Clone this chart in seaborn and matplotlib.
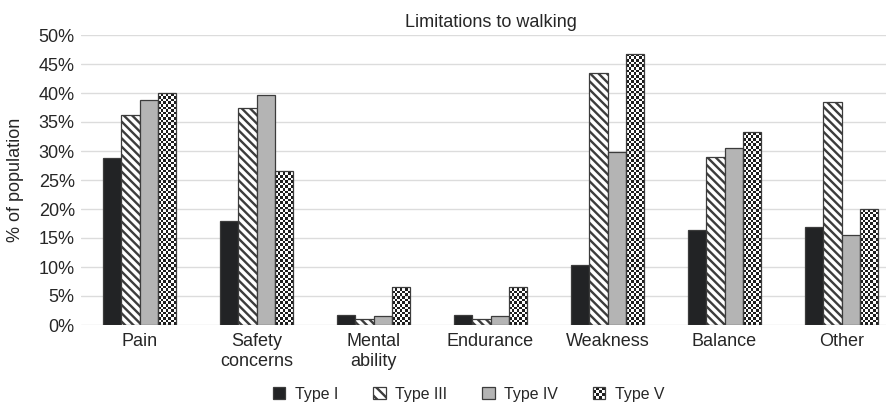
import numpy as np
import pandas as pd
import matplotlib
matplotlib.use("Agg")
import matplotlib.pyplot as plt
from matplotlib.patches import Rectangle
from matplotlib.collections import PolyCollection
from matplotlib.legend_handler import HandlerBase
from matplotlib.ticker import FuncFormatter, MultipleLocator
import seaborn as sns

# Share of population reporting each limitation to walking, by type
categories = ["Pain", "Safety\nconcerns", "Mental\nability", "Endurance",
              "Weakness", "Balance", "Other"]
types = ["Type I", "Type III", "Type IV", "Type V"]
type_i = [28.8, 17.9, 1.8, 1.8, 10.4, 16.4, 16.9]
type_iii = [36.2, 37.4, 1.1, 1.1, 43.4, 28.9, 38.5]
type_iv = [38.8, 39.6, 1.5, 1.5, 29.9, 30.6, 15.6]
type_v = [40.0, 26.6, 6.6, 6.6, 46.7, 33.3, 20.0]

df = pd.DataFrame({
    "category": categories * 4,
    "type": np.repeat(types, len(categories)),
    "value": type_i + type_iii + type_iv + type_v,
})

sns.set_theme(style="white")
plt.rcParams["font.family"] = ["Liberation Sans", "DejaVu Sans"]
plt.rcParams["hatch.linewidth"] = 1.7
plt.rcParams["hatch.color"] = "#1e1e1e"

TEXT = "#262626"
EDGE = "#3c3c3c"
DARK = "#1e1e1e"
fills = {"Type I": "#222325", "Type III": "#ffffff",
         "Type IV": "#b4b4b4", "Type V": "#ffffff"}

W, H = 886, 404
fig = plt.figure(figsize=(W / 100, H / 100), dpi=100)
ax = fig.add_axes([81 / W, 79 / H, 819 / W, 290 / H])

sns.barplot(data=df, x="category", y="value", hue="type", order=categories,
            hue_order=types, palette=fills, saturation=1, width=0.63,
            edgecolor=EDGE, linewidth=0.9, legend=False, ax=ax, zorder=2)

ax.set_xlim(-0.5, 6.5)
ax.set_ylim(0, 50)

# diagonal stripes for Type III
for bar in ax.containers[1]:
    bar.set_hatch("\\\\\\\\")

# checkerboard fill for Type V, built from small squares clipped to each bar
fig.canvas.draw()
cell_px = 2.75
for bar in ax.containers[3]:
    x0, y0 = bar.get_x(), bar.get_y()
    bw, bh = bar.get_width(), bar.get_height()
    ext = bar.get_window_extent()
    nc = max(1, int(round(ext.width / cell_px)))
    dx = bw / nc
    # cell height in data units so the cells are square on screen
    dy = (ext.width / nc) / (ext.height / bh)
    nr = int(np.ceil(bh / dy))
    squares = []
    for r in range(nr):
        for c in range(nc):
            if (r + c) % 2 == 0:
                xa, ya = x0 + c * dx, y0 + r * dy
                squares.append([(xa, ya), (xa + dx, ya), (xa + dx, ya + dy),
                                (xa, ya + dy)])
    pc = PolyCollection(squares, facecolors=DARK, edgecolors="none",
                        zorder=2.5)
    ax.add_collection(pc)
    pc.set_clip_path(bar)
    bar.set_facecolor("none")
    bar.set_zorder(3)

ax.set_xlim(-0.5, 6.5)
ax.set_ylim(0, 50)
ax.yaxis.set_major_locator(MultipleLocator(5))
ax.yaxis.set_major_formatter(FuncFormatter(lambda v, _: f"{v:.0f}%"))
ax.grid(axis="y", color="#dcdcdc", linewidth=1.0)
ax.set_axisbelow(True)
for s in ax.spines.values():
    s.set_visible(False)
ax.tick_params(axis="both", length=0, labelsize=13, colors=TEXT)
ax.tick_params(axis="x", pad=6)
ax.tick_params(axis="y", pad=4.5)
ax.set_xlabel("")
ax.set_ylabel("% of population", fontsize=13, color=TEXT)
ax.yaxis.set_label_coords(-0.069, 0.5)
ax.set_title("Limitations to walking", fontsize=13, color=TEXT, pad=6)


class CheckerHandler(HandlerBase):
    def create_artists(self, legend, orig_handle, xdescent, ydescent,
                       width, height, fontsize, trans):
        n = 4
        artists = [Rectangle((-xdescent, -ydescent), width, height,
                             facecolor="white", edgecolor="none",
                             transform=trans)]
        for i in range(n):
            for j in range(n):
                if (i + j) % 2 == 0:
                    artists.append(Rectangle(
                        (-xdescent + j * width / n, -ydescent + i * height / n),
                        width / n, height / n, facecolor=DARK,
                        edgecolor="none", transform=trans))
        artists.append(Rectangle((-xdescent, -ydescent), width, height,
                                 facecolor="none", edgecolor=EDGE,
                                 linewidth=0.9, transform=trans))
        return artists


handles = [
    Rectangle((0, 0), 1, 1, facecolor=fills["Type I"], edgecolor=EDGE, linewidth=0.9),
    Rectangle((0, 0), 1, 1, facecolor="white", edgecolor=EDGE, linewidth=0.9,
              hatch="\\\\\\"),
    Rectangle((0, 0), 1, 1, facecolor=fills["Type IV"], edgecolor=EDGE, linewidth=0.9),
    Rectangle((0, 0), 1, 1, facecolor="white", edgecolor=EDGE),
]
leg = fig.legend(handles, types, loc="center", ncol=4, frameon=False,
                 bbox_to_anchor=(468.5 / W, 10 / H), fontsize=11.4,
                 handlelength=0.8, handleheight=0.8, handletextpad=0.6,
                 columnspacing=2.2, labelcolor=TEXT,
                 handler_map={handles[3]: CheckerHandler()})

fig.savefig("out.png", dpi=100)
